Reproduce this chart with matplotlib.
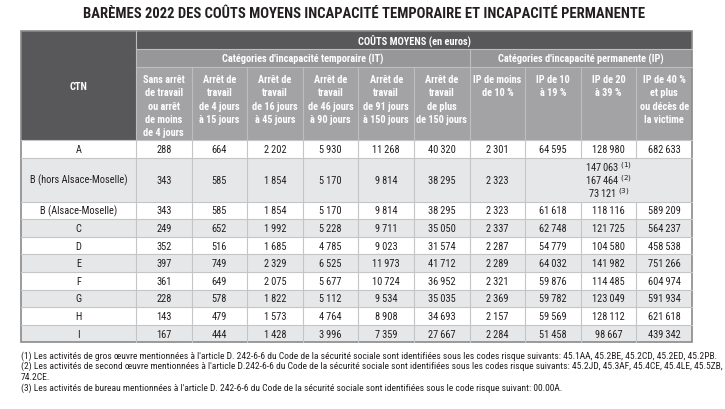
import matplotlib.pyplot as plt
from matplotlib.patches import Rectangle

FONT = ["Roboto Condensed", "Barlow Condensed", "IBM Plex Sans Condensed", "DejaVu Sans"]
plt.rcParams["font.family"] = FONT

TITLE = "BARÈMES 2022 DES COÛTS MOYENS INCAPACITÉ TEMPORAIRE ET INCAPACITÉ PERMANENTE"

ctn_labels = ["A", "B (hors Alsace-Moselle)", "B (Alsace-Moselle)", "C", "D",
              "E", "F", "G", "H", "I"]

it_headers = [
    "Sans arrêt\nde travail\nou arrêt\nde moins\nde 4 jours",
    "Arrêt de\ntravail\nde 4 jours\nà 15 jours",
    "Arrêt de\ntravail\nde 16 jours\nà 45 jours",
    "Arrêt de\ntravail\nde 46 jours\nà 90 jours",
    "Arrêt de\ntravail\nde 91 jours\nà 150 jours",
    "Arrêt de\ntravail\nde plus\nde 150 jours",
]
ip_headers = [
    "IP de moins\nde 10 %",
    "IP de 10\nà 19 %",
    "IP de 20\nà 39 %",
    "IP de 40 %\net plus\nou décès de\nla victime",
]

# couts IT par CTN (euros)
it_costs = [
    [288, 664, 2202, 5930, 11268, 40320],
    [343, 585, 1854, 5170, 9814, 38295],
    [343, 585, 1854, 5170, 9814, 38295],
    [249, 652, 1992, 5228, 9711, 35050],
    [352, 516, 1685, 4785, 9023, 31574],
    [397, 749, 2329, 6525, 11973, 41712],
    [361, 649, 2075, 5677, 10724, 36952],
    [228, 578, 1822, 5112, 9534, 35035],
    [143, 479, 1573, 4764, 8908, 34693],
    [167, 444, 1428, 3996, 7359, 27667],
]

# couts IP par CTN (None = cellule fusionnee, voir b_hors_ip)
ip_costs = [
    [2301, 64595, 128980, 682633],
    [2323, None, None, None],
    [2323, 61618, 118116, 589209],
    [2337, 62748, 121725, 564237],
    [2287, 54779, 104580, 458538],
    [2289, 64032, 141982, 751266],
    [2321, 59876, 114485, 604974],
    [2369, 59782, 123049, 591934],
    [2157, 59569, 128112, 621618],
    [2284, 51458, 98667, 439342],
]
b_hors_ip = [147063, 167464, 73121]

footnotes = [
    "(1) Les activités de gros œuvre mentionnées à l'article D. 242-6-6 du Code de la sécurité sociale sont identifiées sous les codes risque suivants: 45.1AA, 45.2BE, 45.2CD, 45.2ED, 45.2PB.",
    "(2) Les activités de second œuvre mentionnées à l'article D.242-6-6 du Code de la sécurité sociale sont identifiées sous les codes risque suivants: 45.2JD, 45.3AF, 45.4CE, 45.4LE, 45.5ZB,",
    "74.2CE.",
    "(3) Les activités de bureau mentionnées à l'article D. 242-6-6 du Code de la sécurité sociale sont identifiées sous le code risque suivant: 00.00A.",
]

DARK = "#58585a"
MID = "#97979a"
LIGHT = "#a3a3a5"
STRIPE = "#e6e7e8"
GRID = "#c4c5c7"
SEP = "#bebec0"
INK = "#231f20"


def fmt(v):
    return f"{v:,}".replace(",", "\u2009")


def fit_width(t, target, fig):
    # shrink/grow a text so that it spans about target pixels
    r = fig.canvas.get_renderer()
    w = t.get_window_extent(renderer=r).width
    t.set_fontsize(t.get_fontsize() * target / w)


fig = plt.figure(figsize=(7.25, 4.1), dpi=100)
ax = fig.add_axes([0, 0, 1, 1])
ax.set_xlim(0, 725)
ax.set_ylim(410, 0)
ax.axis("off")

x0, ctn_w, x1 = 21, 115, 692
ncols = len(it_headers) + len(ip_headers)
col_w = (x1 - x0 - ctn_w) / ncols
col_x = [x0 + ctn_w + i * col_w for i in range(ncols + 1)]

y_top, y_sub, y_head, y_data = 32, 50, 68, 141
row_h = 17.6
row_heights = [row_h * (2.5 if "hors" in c else 1) for c in ctn_labels]

title = ax.text(364, 14, TITLE, ha="center", va="center", fontsize=12.5,
                fontweight="bold", color=INK)
fit_width(title, 562, fig)

# header blocks
ax.add_patch(Rectangle((x0, y_top), ctn_w, y_data - y_top, fc=DARK, ec="none"))
ax.add_patch(Rectangle((col_x[0], y_top), x1 - col_x[0], y_sub - y_top, fc=DARK, ec="none"))
ax.add_patch(Rectangle((col_x[0], y_sub), x1 - col_x[0], y_head - y_sub, fc=MID, ec="none"))
ax.add_patch(Rectangle((col_x[0], y_head), x1 - col_x[0], y_data - y_head, fc=LIGHT, ec="none"))

ax.text(x0 + ctn_w / 2, (y_top + y_data) / 2, "CTN", ha="center", va="center",
        color="white", fontweight="bold", fontsize=7.5)
ax.text((col_x[0] + x1) / 2, (y_top + y_sub) / 2, "COÛTS MOYENS (en euros)",
        ha="center", va="center", color="white", fontweight="bold", fontsize=7.5)
n_it = len(it_headers)
ax.text((col_x[0] + col_x[n_it]) / 2, (y_sub + y_head) / 2,
        "Catégories d'incapacité temporaire (IT)", ha="center", va="center",
        color="white", fontweight="bold", fontsize=7.5)
ax.text((col_x[n_it] + x1) / 2, (y_sub + y_head) / 2,
        "Catégories d'incapacité permanente (IP)", ha="center", va="center",
        color="white", fontweight="bold", fontsize=7.5)

for i, h in enumerate(it_headers + ip_headers):
    ax.text((col_x[i] + col_x[i + 1]) / 2, y_head + 7, h, ha="center", va="top",
            color="white", fontweight="bold", fontsize=7.4, linespacing=1.42)

# header separators
ax.plot([col_x[0], col_x[0]], [y_top, y_data], color=SEP, lw=0.8)
ax.plot([col_x[0], x1], [y_sub, y_sub], color=SEP, lw=0.8)
ax.plot([col_x[0], x1], [y_head, y_head], color=SEP, lw=0.8)
ax.plot([col_x[n_it], col_x[n_it]], [y_sub, y_data], color=SEP, lw=0.8)
for xc in col_x[1:-1]:
    ax.plot([xc, xc], [y_head, y_data], color=SEP, lw=0.8)

# data rows
y = y_data
for r, label in enumerate(ctn_labels):
    h = row_heights[r]
    fc = "white" if r % 2 == 0 else STRIPE
    ax.add_patch(Rectangle((x0, y), x1 - x0, h, fc=fc, ec="none"))
    yc = y + h / 2
    ax.text(x0 + ctn_w / 2, yc, label, ha="center", va="center", fontsize=7.5,
            color=INK)
    values = it_costs[r] + ip_costs[r]
    for c, v in enumerate(values):
        if v is None:
            continue
        ax.text((col_x[c] + col_x[c + 1]) / 2, yc, fmt(v), ha="center",
                va="center", fontsize=7.5, color=INK)
    if ip_costs[r][1] is None:
        xm = (col_x[n_it + 1] + x1) / 2
        for k, v in enumerate(b_hors_ip):
            ax.text(xm, yc + (k - 1) * 13, fmt(v) + f" $^{{({k + 1})}}$",
                    ha="center", va="center", fontsize=7.5, color=INK)
    # grid
    ax.plot([x0, x1], [y, y], color=GRID, lw=0.8)
    for c, xc in enumerate(col_x[:-1]):
        if ip_costs[r][1] is None and c > n_it + 1:
            continue
        ax.plot([xc, xc], [y, y + h], color=GRID, lw=0.8)
    y += h

# outer border
ax.add_patch(Rectangle((x0, y_top), x1 - x0, y - y_top, fc="none",
                       ec="#8a8a8a", lw=1.2))

notes = []
for k, line in enumerate(footnotes):
    notes.append(ax.text(x0, 356 + k * 10.7, line, ha="left", va="center",
                         fontsize=6.3, color=INK))
fit_width(notes[0], 686, fig)
for t in notes[1:]:
    t.set_fontsize(notes[0].get_fontsize())

fig.savefig("out.png", dpi=100)
